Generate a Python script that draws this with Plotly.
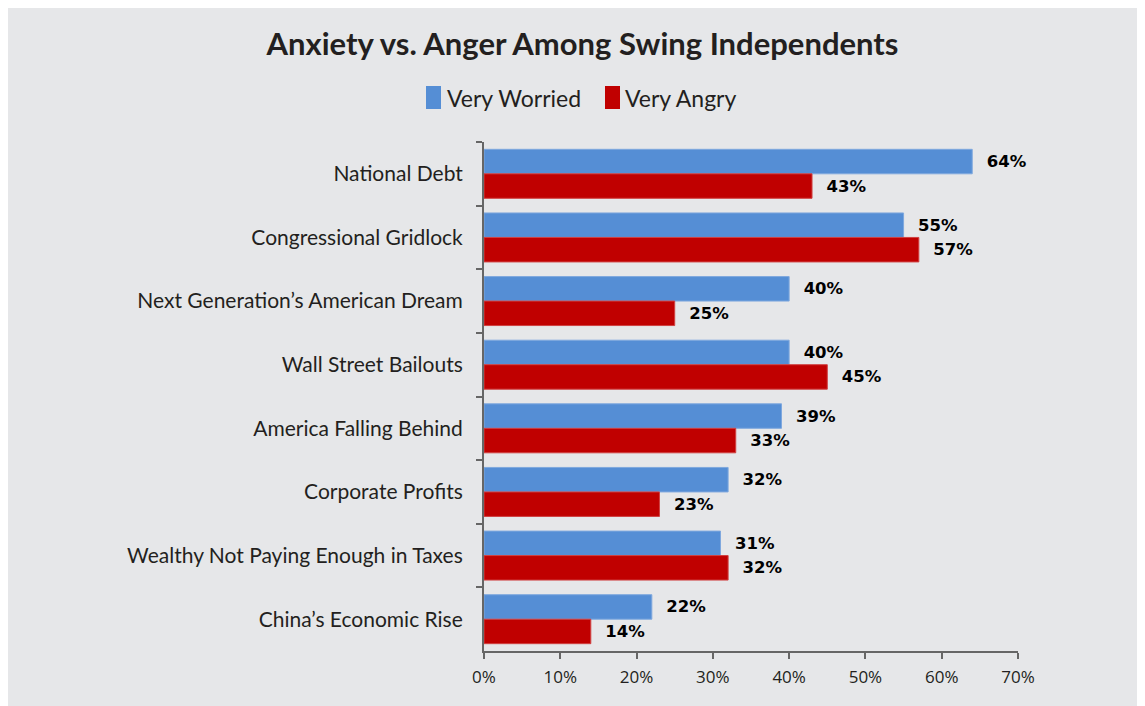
import plotly.graph_objects as go

categories = [
    "National Debt",
    "Congressional Gridlock",
    "Next Generation\u2019s American Dream",
    "Wall Street Bailouts",
    "America Falling Behind",
    "Corporate Profits",
    "Wealthy Not Paying Enough in Taxes",
    "China\u2019s Economic Rise",
]
very_worried = [64, 55, 40, 40, 39, 32, 31, 22]
very_angry = [43, 57, 25, 45, 33, 23, 32, 14]
x_ticks = [0, 10, 20, 30, 40, 50, 60, 70]
x_tick_labels = [f"{v}%" for v in x_ticks]

BLUE = "#558ed5"
RED = "#c00000"
BG = "#e6e7e9"

# page body has an 8px margin; figure coordinates = screen - 8
OFF = 8
W, H = 1145 - OFF, 706 - OFF
L, R, T, B = 484 - OFF, 1018 - OFF, 142 - OFF, 651 - OFF


def px_x(p):
    return (p - OFF - L) / (R - L)


def px_y(p):
    return (B - (p - OFF)) / (B - T)


label_font = dict(family="DejaVu Sans", size=16.5, color="#000000", weight="bold")

fig = go.Figure()
fig.add_trace(go.Bar(
    y=categories, x=very_worried, orientation="h", name="Very Worried",
    marker=dict(color=BLUE, line=dict(color="#7fa8de", width=1)),
    text=[f"\u00a0\u00a0{v}%" for v in very_worried], textposition="outside",
    textfont=label_font, constraintext="none", cliponaxis=False,
))
fig.add_trace(go.Bar(
    y=categories, x=very_angry, orientation="h", name="Very Angry",
    marker=dict(color=RED, line=dict(color="#d04040", width=1)),
    text=[f"\u00a0\u00a0{v}%" for v in very_angry], textposition="outside",
    textfont=label_font, constraintext="none", cliponaxis=False,
))

shapes = [
    dict(type="rect", xref="paper", yref="paper", x0=px_x(426), x1=px_x(441),
         y0=px_y(109), y1=px_y(86), fillcolor=BLUE, line=dict(width=0)),
    dict(type="rect", xref="paper", yref="paper", x0=px_x(605), x1=px_x(620),
         y0=px_y(109), y1=px_y(86), fillcolor=RED, line=dict(width=0)),
]

legend_font = dict(family="Lato", size=23, color="#231f20")
annotations = [
    dict(text="Very Worried", xref="paper", yref="paper", x=px_x(445), y=px_y(98),
         xanchor="left", yanchor="middle", showarrow=False, font=legend_font),
    dict(text="Very Angry", xref="paper", yref="paper", x=px_x(623), y=px_y(98),
         xanchor="left", yanchor="middle", showarrow=False, font=legend_font),
]

fig.update_layout(
    width=W, height=H,
    paper_bgcolor=BG, plot_bgcolor=BG,
    margin=dict(l=L, r=W - R, t=T, b=H - B, pad=0),
    barmode="group", bargap=0.23, bargroupgap=0,
    showlegend=False,
    title=dict(text="<b>Anxiety vs. Anger Among Swing Independents</b>",
               x=(582.5 - OFF) / W, xref="container", xanchor="center",
               y=1 - (44 - OFF) / H, yref="container", yanchor="middle",
               font=dict(family="Lato", size=31, color="#231f20")),
    shapes=shapes,
    annotations=annotations,
)
fig.update_xaxes(
    range=[0, 70], tickvals=x_ticks, ticktext=x_tick_labels,
    showgrid=False, zeroline=False, showline=True, linecolor="#666666", linewidth=2,
    ticks="outside", ticklen=6, tickwidth=2, tickcolor="#666666",
    ticklabelstandoff=4,
    tickfont=dict(family="Open Sans", size=17, color="#231f20"),
)
fig.update_yaxes(
    autorange="reversed", showgrid=False, zeroline=False,
    showline=True, linecolor="#666666", linewidth=2,
    ticks="outside", ticklen=6, tickwidth=2, tickcolor="#666666",
    tickson="boundaries", ticklabelstandoff=15,
    tickfont=dict(family="Lato", size=21, color="#231f20"),
)

fig.write_html("out.html")
